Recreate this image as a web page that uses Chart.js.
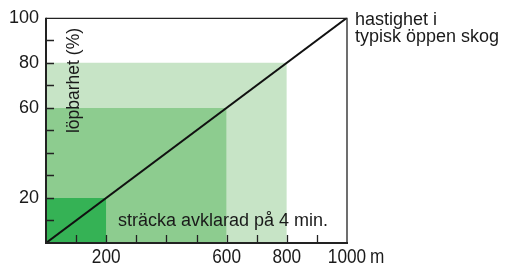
<!DOCTYPE html>
<html><head><meta charset="utf-8">
<script src="https://cdn.jsdelivr.net/npm/chart.js@4"></script>
<style>html,body{margin:0;padding:0;background:#fff}#w{width:512px;height:266px}</style>
</head><body><div id="w"><canvas id="c"></canvas></div>
<script>
// Data
const zoneDistances = [800, 600, 200];   // m covered in 4 min
const zonePercents  = [80, 60, 20];      // löpbarhet (%)
const zoneColors    = ['#c7e4c6', '#8dcc8f', '#35b255'];
const speedX = [0, 1000];
const speedY = [0, 100];
const xTickLabels = [200, 600, 800, 1000];
const yTickLabels = [20, 60, 80, 100];
const xAxisUnit = 'm';
const yAxisTitle = 'löpbarhet (%)';
const lineLabel = ['hastighet i', 'typisk öppen skog'];
const zoneLabel = 'sträcka avklarad på 4 min.';

const FONT = '"Liberation Sans", Arial, sans-serif';

const datasets = zoneDistances.map((d, i) => ({
  type: 'line',
  data: [{x: 0, y: zonePercents[i]}, {x: d, y: zonePercents[i]}],
  borderWidth: 0, pointRadius: 0, backgroundColor: zoneColors[i],
  fill: 'origin', order: 10 - i
}));
datasets.push({
  type: 'line',
  data: speedX.map((x, i) => ({x, y: speedY[i]})),
  borderColor: '#111', borderWidth: 2, pointRadius: 0, fill: false, order: 0
});

function condensedText(ctx, text, px, py, align) {
  ctx.save();
  ctx.translate(px, py);
  ctx.scale(0.86, 1);
  ctx.textAlign = align;
  ctx.fillText(text, 0, 0);
  ctx.restore();
}

const decor = {
  id: 'decor',
  afterDatasetsDraw(chart) {
    const {ctx, chartArea: a, scales: {x, y}} = chart;
    ctx.save();
    // frame top/right
    ctx.strokeStyle = '#222'; ctx.lineWidth = 1.3;
    ctx.beginPath();
    ctx.moveTo(a.left, a.top + 0.5); ctx.lineTo(a.right, a.top + 0.5);
    ctx.lineTo(a.right, a.bottom);
    ctx.stroke();
    // inward ticks
    ctx.lineWidth = 1.3;
    ctx.beginPath();
    for (let v = 100; v < 1000; v += 100) {
      const px = Math.round(x.getPixelForValue(v)) + 0.5;
      ctx.moveTo(px, a.bottom); ctx.lineTo(px, a.bottom - 8);
    }
    for (let v = 10; v < 100; v += 10) {
      const py = Math.round(y.getPixelForValue(v)) + 0.5;
      ctx.moveTo(a.left, py); ctx.lineTo(a.left + 8, py);
    }
    ctx.stroke();
    // axes
    ctx.lineWidth = 2;
    ctx.beginPath();
    ctx.moveTo(a.left, a.top); ctx.lineTo(a.left, a.bottom); ctx.lineTo(a.right + 1, a.bottom);
    ctx.stroke();
    // texts
    ctx.fillStyle = '#1a1a1a';
    ctx.textBaseline = 'alphabetic';
    ctx.textAlign = 'left';
    ctx.font = '18px ' + FONT;
    ctx.fillText(zoneLabel, 118, 225.5);
    ctx.fillText(lineLabel[0], a.right + 8, 25);
    ctx.fillText(lineLabel[1], a.right + 8, 42);
    // x tick labels (condensed, from the library's x scale ticks)
    ctx.font = '20px ' + FONT;
    x.ticks.forEach(t => {
      if (xTickLabels.includes(t.value)) {
        condensedText(ctx, String(t.value), x.getPixelForValue(t.value), 263, 'center');
      }
    });
    condensedText(ctx, xAxisUnit, x.getPixelForValue(1000) + 23, 263, 'left');
    ctx.save();
    ctx.translate(79, 80.5);
    ctx.rotate(-Math.PI / 2);
    ctx.textAlign = 'center';
    ctx.font = '17.5px ' + FONT;
    ctx.fillText(yAxisTitle, 0, 0);
    ctx.restore();
    ctx.restore();
  }
};

new Chart(document.getElementById('c'), {
  data: {datasets},
  options: {
    responsive: true, maintainAspectRatio: false, animation: false,
    layout: {padding: {top: 17, right: 165, left: 0, bottom: 0}},
    plugins: {legend: {display: false}, tooltip: {enabled: false}},
    scales: {
      x: {
        type: 'linear', min: 0, max: 1000,
        grid: {display: false, drawTicks: false, tickLength: 0}, border: {display: false},
        ticks: {display: false, stepSize: 100, autoSkip: false, maxRotation: 0},
        afterFit(s) { s.height = 23; }
      },
      y: {
        type: 'linear', min: 0, max: 100,
        grid: {display: false, drawTicks: false, tickLength: 0}, border: {display: false},
        ticks: {stepSize: 10, autoSkip: false, padding: 7, color: '#1a1a1a',
          font: {family: FONT, size: 18},
          callback: v => yTickLabels.includes(v) ? String(v) : ''},
        afterFit(s) { s.width = 46; }
      }
    }
  },
  plugins: [decor]
});
</script></body></html>
